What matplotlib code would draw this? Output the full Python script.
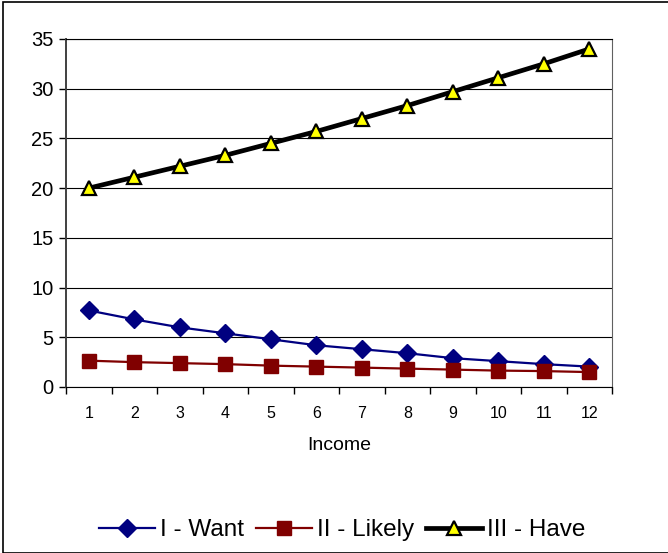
import matplotlib
matplotlib.use('Agg')
import matplotlib.pyplot as plt
from matplotlib.patches import Rectangle
from matplotlib.ticker import FixedLocator, NullFormatter

income = [1, 2, 3, 4, 5, 6, 7, 8, 9, 10, 11, 12]
want = [7.7, 6.8, 6.0, 5.4, 4.8, 4.2, 3.8, 3.4, 2.9, 2.6, 2.3, 2.05]
likely = [2.65, 2.5, 2.4, 2.3, 2.15, 2.05, 1.95, 1.85, 1.75, 1.65, 1.6, 1.5]
have = [20.0, 21.1, 22.2, 23.3, 24.5, 25.7, 27.0, 28.3, 29.7, 31.1, 32.5, 34.0]

plt.rcParams['font.family'] = ['Liberation Sans', 'DejaVu Sans']

fig = plt.figure(figsize=(6.68, 5.53), dpi=100)
ax = fig.add_axes([66 / 668, 1 - 387 / 553, 546 / 668, 348 / 553])

ax.plot(income, want, color='#000080', lw=1.6, marker='D', ms=9,
        mfc='#000080', mec='#000080', label='I - Want', zorder=3)
ax.plot(income, likely, color='#800000', lw=1.6, marker='s', ms=10,
        mfc='#800000', mec='#800000', label='II - Likely', zorder=3)
ax.plot(income, have, color='black', lw=3.4, marker='^', ms=10.5,
        mfc='#ffff00', mec='black', mew=1.6, label='III - Have', zorder=4)

ax.set_xlim(0.5, 12.5)
ax.set_ylim(0, 35)
ax.set_yticks(range(0, 36, 5))
ax.yaxis.grid(True, color='black', lw=0.8)
ax.set_axisbelow(True)

# category ticks sit between the points, labels under each point
ax.set_xticks(income)
ax.set_xticklabels([str(i) for i in income], fontsize=11.5)
ax.xaxis.set_minor_locator(FixedLocator([i + 0.5 for i in range(0, 13)]))
ax.xaxis.set_minor_formatter(NullFormatter())
ax.tick_params(axis='x', which='major', length=0, pad=14)
ax.tick_params(axis='x', which='minor', length=5, width=1, direction='out')
ax.tick_params(axis='y', length=5, width=1, direction='out', labelsize=14.5, pad=4)

ax.spines['left'].set_color('#404040')
ax.spines['left'].set_linewidth(1.4)
ax.spines['bottom'].set_color('black')
ax.spines['right'].set_color('#606060')
ax.spines['top'].set_color('black')
ax.set_xlabel('Income', fontsize=14, labelpad=11)

fig.legend(loc='center', bbox_to_anchor=(342 / 668, 1 - 530 / 553), ncol=3,
           frameon=False, fontsize=17.5, handlelength=2.3, handletextpad=0.2,
           columnspacing=0.5)

fig.patches.append(Rectangle((3 / 668, 0.5 / 553), 1.0, 1 - 2 / 553,
                             transform=fig.transFigure, fill=False,
                             edgecolor='black', lw=1.2))

fig.savefig('out.png', dpi=100)
